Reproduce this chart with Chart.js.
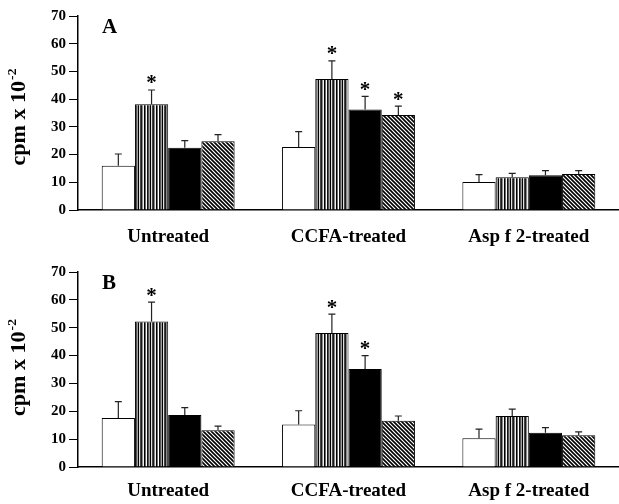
<!DOCTYPE html>
<html>
<head>
<meta charset="utf-8">
<script src="https://cdn.jsdelivr.net/npm/chart.js@4.4.1/dist/chart.umd.min.js"></script>
<style>
  html, body { margin: 0; padding: 0; background: #fff; }
  canvas { display: block; }
</style>
</head>
<body>
<canvas id="chartA" width="619" height="252"></canvas>
<canvas id="chartB" width="619" height="252"></canvas>
<script>
const categories = ['Untreated', 'CCFA-treated', 'Asp f 2-treated'];
const yMin = 0, yMax = 70, yStep = 10;

// panel A  (cpm x 10^-2)
const aOpen     = [16.0, 22.7, 10.1];
const aOpenErr  = [4.2, 5.6, 2.7];
const aVert     = [38.2, 47.3, 11.8];
const aVertErr  = [5.1, 6.5, 1.4];
const aBlack    = [22.5, 36.3, 12.5];
const aBlackErr = [2.5, 4.7, 1.7];
const aHatch    = [24.8, 34.3, 13.0];
const aHatchErr = [2.4, 3.2, 1.2];
const aStars    = [[0,0,0],[1,1,0],[0,1,0],[0,1,0]];

// panel B
const bOpen     = [17.6, 15.3, 10.3];
const bOpenErr  = [5.9, 4.9, 3.3];
const bVert     = [52.2, 48.1, 18.3];
const bVertErr  = [7.0, 6.8, 2.5];
const bBlack    = [18.7, 35.2, 12.3];
const bBlackErr = [2.6, 4.8, 1.8];
const bHatch    = [13.2, 16.6, 11.4];
const bHatchErr = [1.5, 1.7, 1.2];
const bStars    = [[0,0,0],[1,1,0],[0,1,0],[0,0,0]];

const FONT = "'Liberation Serif', 'Times New Roman', serif";

// fill patterns
function stripePattern() {
  const cols = ['#000','#6a6a6a','#fff','#111','#555','#a0a0a0','#000','#e0e0e0','#444','#1a1a1a','#8a8a8a','#f0f0f0'];
  const c = document.createElement('canvas');
  c.width = cols.length; c.height = 4;
  const g = c.getContext('2d');
  cols.forEach((col, i) => { g.fillStyle = col; g.fillRect(i, 0, 1, 4); });
  return g.createPattern(c, 'repeat');
}
function hatchPattern() {
  const c = document.createElement('canvas');
  c.width = 4; c.height = 4;
  const g = c.getContext('2d');
  g.fillStyle = '#fff'; g.fillRect(0, 0, 4, 4);
  g.strokeStyle = '#000'; g.lineWidth = 1.6;
  g.beginPath();
  g.moveTo(-2, -2); g.lineTo(6, 6);
  g.moveTo(-2, 2); g.lineTo(2, 6);
  g.moveTo(2, -2); g.lineTo(6, 2);
  g.stroke();
  return g.createPattern(c, 'repeat');
}

const errorBars = {
  id: 'errorBars',
  afterDatasetsDraw(chart) {
    const ctx = chart.ctx, y = chart.scales.y;
    ctx.save();
    chart.data.datasets.forEach((ds, i) => {
      chart.getDatasetMeta(i).data.forEach((bar, j) => {
        const top = y.getPixelForValue(ds.data[j] + ds.errors[j]);
        ctx.strokeStyle = '#222';
        ctx.lineWidth = 1.2;
        ctx.beginPath();
        ctx.moveTo(bar.x, bar.y);
        ctx.lineTo(bar.x, top);
        ctx.moveTo(bar.x - 3.5, top);
        ctx.lineTo(bar.x + 3.5, top);
        ctx.stroke();
        if (ds.stars[j]) {
          ctx.fillStyle = '#000';
          ctx.font = 'bold 21px ' + FONT;
          ctx.textAlign = 'center';
          ctx.textBaseline = 'alphabetic';
          ctx.fillText('*', bar.x, top - 0.5);
        }
      });
    });
    ctx.restore();
  }
};

const panelText = {
  id: 'panelText',
  afterDraw(chart, args, opts) {
    const ctx = chart.ctx, area = chart.chartArea;
    ctx.save();
    ctx.fillStyle = '#000';
    // panel letter
    ctx.font = 'bold 21px ' + FONT;
    ctx.textAlign = 'left';
    ctx.textBaseline = 'middle';
    ctx.fillText(opts.letter, 102, area.top + 12);
    // y title with superscript
    const cy = (area.top + area.bottom) / 2 + opts.titleShift;
    ctx.translate(25, cy);
    ctx.rotate(-Math.PI / 2);
    ctx.font = 'bold 21px ' + FONT;
    const main = 'cpm x 10';
    const w1 = ctx.measureText(main).width;
    ctx.font = 'bold 13px ' + FONT;
    const w2 = ctx.measureText('-2').width;
    const sx = 97 / (w1 + w2 + 1);
    ctx.scale(sx, 1);
    const x0 = -(w1 + w2 + 1) / 2;
    ctx.textAlign = 'left';
    ctx.textBaseline = 'alphabetic';
    ctx.font = 'bold 21px ' + FONT;
    ctx.fillText(main, x0, 0);
    ctx.font = 'bold 13px ' + FONT;
    ctx.fillText('-2', x0 + w1 + 1, -9);
    ctx.restore();
  }
};

function makePanel(id, letter, series, errs, stars, padTop, axisH, labelPad, titleShift) {
  const fills = ['#fff', stripePattern(), '#000', hatchPattern()];
  const names = ['Group 1', 'Group 2', 'Group 3', 'Group 4'];
  return new Chart(document.getElementById(id), {
    type: 'bar',
    data: {
      labels: categories,
      datasets: series.map((d, i) => ({
        label: names[i],
        data: d,
        errors: errs[i],
        stars: stars[i],
        backgroundColor: fills[i],
        borderColor: '#000',
        borderWidth: 1,
        categoryPercentage: 0.737,
        barPercentage: 1
      }))
    },
    options: {
      responsive: false,
      animation: false,
      devicePixelRatio: 1,
      layout: { padding: { top: padTop, left: 0, right: 0, bottom: 0 } },
      plugins: {
        legend: { display: false },
        tooltip: { enabled: false },
        panelText: { letter: letter, titleShift: titleShift }
      },
      scales: {
        x: {
          grid: { display: false, drawTicks: false },
          border: { display: true, color: '#000', width: 1.5 },
          ticks: { color: '#000', padding: labelPad, font: { family: FONT, size: 19, weight: 'bold' } },
          afterFit(s) { s.height = axisH; }
        },
        y: {
          min: yMin, max: yMax,
          ticks: { stepSize: yStep, color: '#000', padding: 3, font: { family: FONT, size: 15, weight: 'bold' } },
          grid: { drawOnChartArea: false, drawTicks: true, tickLength: 9, color: '#000', lineWidth: 1 },
          border: { display: true, color: '#000', width: 1.5 },
          afterFit(s) { s.width = 78; }
        }
      }
    },
    plugins: [errorBars, panelText]
  });
}

makePanel('chartA', 'A',
  [aOpen, aVert, aBlack, aHatch],
  [aOpenErr, aVertErr, aBlackErr, aHatchErr],
  aStars, 16, 42, 16, 4);
makePanel('chartB', 'B',
  [bOpen, bVert, bBlack, bHatch],
  [bOpenErr, bVertErr, bBlackErr, bHatchErr],
  bStars, 20, 37, 13, -2);
</script>
</body>
</html>
